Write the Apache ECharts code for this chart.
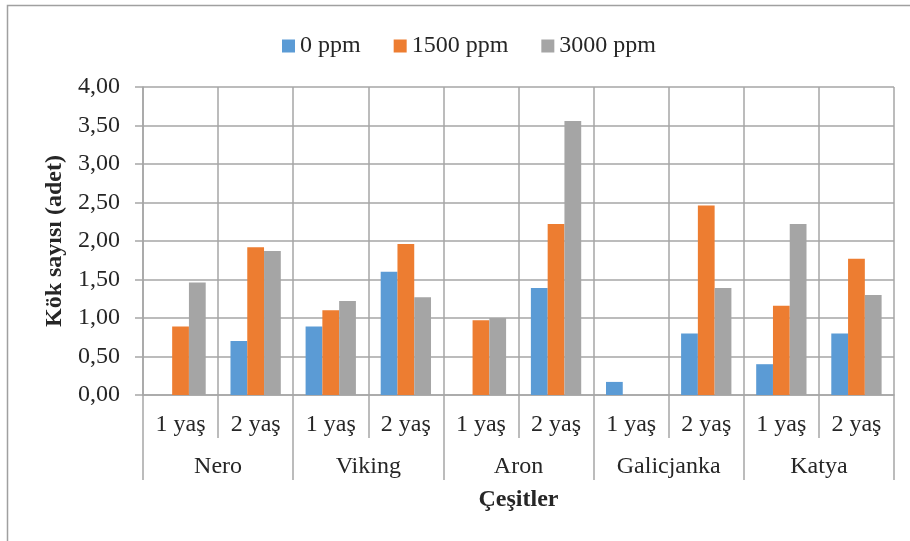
<!DOCTYPE html>
<html>
<head>
<meta charset="utf-8">
<script src="https://cdn.jsdelivr.net/npm/echarts@6/dist/echarts.min.js"></script>
<style>
html,body{margin:0;padding:0;background:#fff;}
#chart{width:910px;height:541px;}
</style>
</head>
<body>
<div id="chart"></div>
<script>
const ageLabels = ["1 yaş","2 yaş","1 yaş","2 yaş","1 yaş","2 yaş","1 yaş","2 yaş","1 yaş","2 yaş"];
const varieties = ["Nero","Viking","Aron","Galicjanka","Katya"];
const seriesNames = ["0 ppm","1500 ppm","3000 ppm"];
const ppm0 =    [0,    0.70, 0.89, 1.60, 0,    1.39, 0.17, 0.80, 0.40, 0.80];
const ppm1500 = [0.89, 1.92, 1.10, 1.96, 0.97, 2.22, 0,    2.46, 1.16, 1.77];
const ppm3000 = [1.46, 1.87, 1.22, 1.27, 1.00, 3.56, 0,    1.39, 2.22, 1.30];
const yTicks = [0,0.5,1,1.5,2,2.5,3,3.5,4];

const colors = ["#5B9BD5","#ED7D31","#A5A5A5"];
const FONT = "Liberation Serif";
const TXT = "#262626";
const GRID = "#a6a6a6";
const FS = 24;

const chart = echarts.init(document.getElementById('chart'));
chart.setOption({
  animation:false,
  color:colors,
  textStyle:{fontFamily:FONT,color:TXT},
  graphic:[{type:'rect',shape:{x:7.5,y:5.5,width:1200,height:1200},style:{fill:'none',stroke:'#a0a0a0',lineWidth:1.5},silent:true}],
  legend:{
    data:seriesNames,
    top:29,left:277,
    itemWidth:13,itemHeight:13,itemGap:33,
    icon:'rect',
    textStyle:{fontFamily:FONT,fontSize:FS,color:TXT,padding:[0,0,0,0]}
  },
  grid:{left:143,right:16,top:87,bottom:146,containLabel:false},
  xAxis:[{
    type:'category',
    data:ageLabels,
    position:'bottom',
    axisLine:{show:true,lineStyle:{color:GRID,width:1.5}},
    axisTick:{show:true,length:43,lineStyle:{color:GRID,width:1.5}},
    splitLine:{show:true,lineStyle:{color:GRID,width:1.5}},
    axisLabel:{fontFamily:FONT,fontSize:FS,color:TXT,margin:18,interval:0},
    name:'Çeşitler',
    nameLocation:'middle',
    nameGap:93,
    nameTextStyle:{fontFamily:FONT,fontSize:FS,fontWeight:'bold',color:TXT}
  },{
    type:'category',
    data:varieties,
    position:'bottom',
    axisLine:{show:false},
    axisTick:{show:true,length:85,lineStyle:{color:GRID,width:1.5}},
    splitLine:{show:false},
    axisLabel:{fontFamily:FONT,fontSize:FS,color:TXT,margin:60,interval:0}
  }],
  yAxis:{
    type:'value',
    min:0,max:4,interval:0.5,
    axisLine:{show:true,lineStyle:{color:GRID,width:1.5}},
    axisTick:{show:true,length:8,lineStyle:{color:GRID,width:1.5}},
    splitLine:{show:true,lineStyle:{color:GRID,width:1.5}},
    axisLabel:{fontFamily:FONT,fontSize:FS,color:TXT,margin:23,
      formatter:v=>v.toFixed(2).replace('.',',')},
    name:'Kök sayısı (adet)',
    nameLocation:'middle',
    nameGap:76,
    nameTextStyle:{fontFamily:FONT,fontSize:FS,fontWeight:'bold',color:TXT}
  },
  series:[
    {name:seriesNames[0],type:'bar',data:ppm0,xAxisIndex:0,barGap:'0%',barCategoryGap:'33%'},
    {name:seriesNames[1],type:'bar',data:ppm1500,xAxisIndex:0,barGap:'0%',barCategoryGap:'33%'},
    {name:seriesNames[2],type:'bar',data:ppm3000,xAxisIndex:0,barGap:'0%',barCategoryGap:'33%'}
  ]
});
</script>
</body>
</html>
